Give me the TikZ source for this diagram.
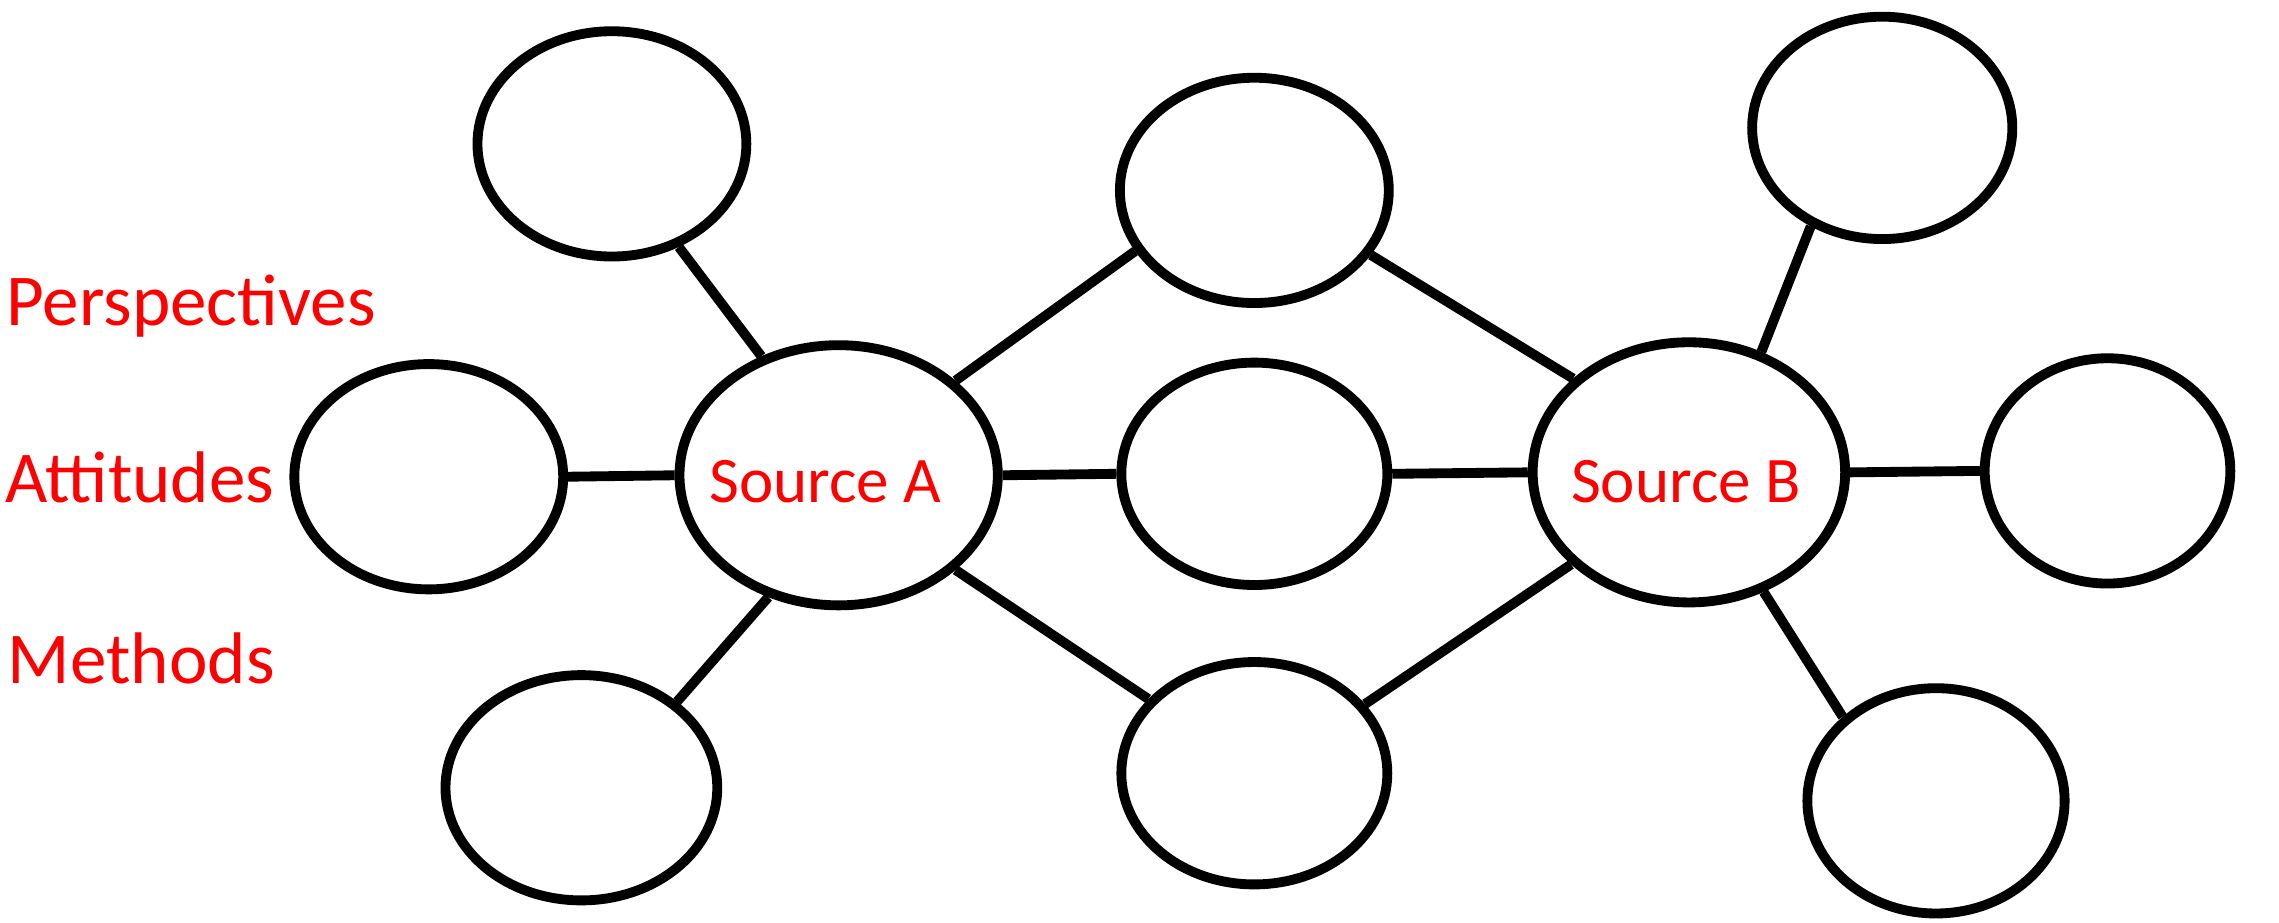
\documentclass[tikz,border=0pt]{standalone}
\usepackage{fontspec}
\setmainfont{Carlito}
\usetikzlibrary{shapes.geometric}
\def\uu{0.014534cm}
\begin{document}
\begin{tikzpicture}[x=0.014534cm,y=-0.014534cm,
  bub/.style={draw=black,ellipse,line width=2.8pt,inner sep=0pt,fill=white},
  link/.style={draw=black,line width=2.8pt},
  lbl/.style={text=red,font=\fontsize{20.8}{24}\selectfont,inner sep=0pt,anchor=base west},
  src/.style={text=red,font=\fontsize{18.5}{21}\selectfont,inner sep=0pt,anchor=base}]
\useasboundingbox[fill=white] (0,0) rectangle (1568,635);
\node[bub,minimum width=185*\uu,minimum height=155*\uu] (tl) at (421,99) {};
\node[bub,minimum width=185*\uu,minimum height=155*\uu] (lm) at (295,328) {};
\node[bub,minimum width=187*\uu,minimum height=155*\uu] (bl) at (400,542) {};
\node[bub,minimum width=219*\uu,minimum height=179*\uu] (sa) at (577,327) {};
\node[bub,minimum width=185*\uu,minimum height=155*\uu] (tc) at (863,131) {};
\node[bub,minimum width=183*\uu,minimum height=153*\uu] (mc) at (863,326) {};
\node[bub,minimum width=183*\uu,minimum height=153*\uu] (bc) at (863,532) {};
\node[bub,minimum width=215*\uu,minimum height=179*\uu] (sb) at (1162,325) {};
\node[bub,minimum width=179*\uu,minimum height=153*\uu] (tr) at (1295,88) {};
\node[bub,minimum width=169*\uu,minimum height=155*\uu] (rm) at (1450,324) {};
\node[bub,minimum width=177*\uu,minimum height=155*\uu] (br) at (1332,551) {};
\draw[link] (tl.-57) -- (sa.123);
\draw[link] (lm.east) -- (sa.west);
\draw[link] (bl.42) -- (sa.240);
\draw[link] (sa.39) -- (tc.207);
\draw[link] (sa.east) -- (mc.west);
\draw[link] (sa.-39) -- (bc.145);
\draw[link] (tc.-29) -- (sb.141);
\draw[link] (mc.east) -- (sb.west);
\draw[link] (bc.32) -- (sb.218);
\draw[link] (sb.59) -- (tr.234);
\draw[link] (sb.east) -- (rm.west);
\draw[link] (sb.-58) -- (br.138);
\node[src] (sat) at (568,345.6) {Source A};
\node[src] (sbt) at (1160,345.5) {Source B};
\node[lbl] (p) at (4,224) {Perspectives};
\node[lbl] (a) at (3,346) {Attitudes};
\node[lbl] (m) at (5,470) {Methods};
\end{tikzpicture}
\end{document}
